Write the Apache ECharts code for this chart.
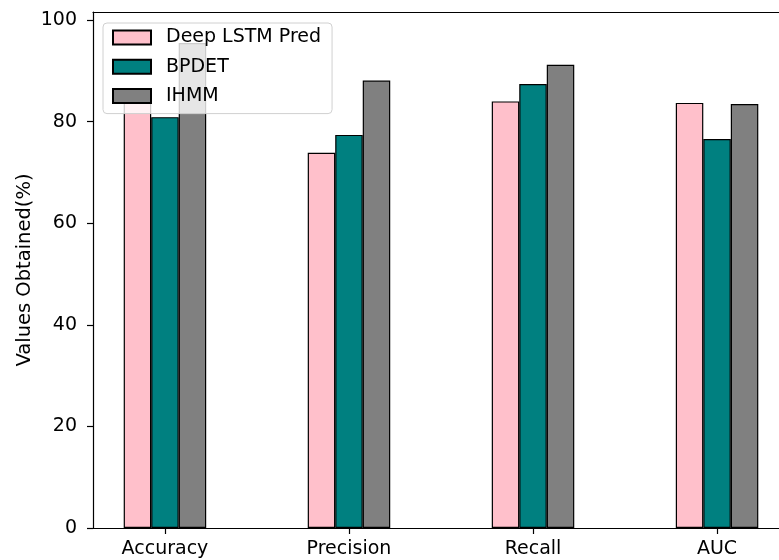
<!DOCTYPE html>
<html>
<head>
<meta charset="utf-8">
<script src="https://cdn.jsdelivr.net/npm/echarts@6/dist/echarts.min.js"></script>
<style>html,body{margin:0;padding:0;background:#fff;overflow:hidden}#c{width:800px;height:560px}</style>
</head>
<body>
<div id="c"></div>
<script>
var categories = ['Accuracy', 'Precision', 'Recall', 'AUC'];
var seriesNames = ['Deep LSTM Pred', 'BPDET', 'IHMM'];
var deepLstmPred = [85.0, 73.9, 84.0, 83.7];
var bpdet = [80.9, 77.4, 87.4, 76.6];
var ihmm = [95.5, 88.1, 91.2, 83.5];
var yTicks = [0, 20, 40, 60, 80, 100];
var colors = ['#FFC0CB', '#008080', '#808080'];

var font = 'DejaVu Sans';
var fs = 19;
var chart = echarts.init(document.getElementById('c'), null, {renderer: 'canvas'});
var catIdx = categories.map(function (c, i) { return i; });
function toPairs(arr) { return arr.map(function (v, i) { return [i, v]; }); }
var allSeries = [deepLstmPred, bpdet, ihmm].map(function (arr, k) {
  return {
    name: seriesNames[k],
    type: 'bar',
    data: toPairs(arr),
    barWidth: 27.5,
    barGap: '0%',
    itemStyle: {color: colors[k], borderColor: '#000', borderWidth: 1.2},
    emphasis: {disabled: true}
  };
});

chart.setOption({
  animation: false,
  textStyle: {fontFamily: font},
  grid: {left: 93, right: 11, top: 12, bottom: 32},
  legend: {
    orient: 'vertical',
    left: 103, top: 23,
    data: seriesNames,
    itemWidth: 38, itemHeight: 14, itemGap: 10.3,
    padding: [5, 11, 8, 9],
    backgroundColor: 'rgba(255,255,255,0.8)',
    borderColor: '#d0d0d0', borderWidth: 1, borderRadius: 4,
    textStyle: {fontFamily: font, fontSize: fs, color: '#000', lineHeight: 19, padding: [0, 0, 0, 10]},
    icon: 'rect',
    selectedMode: false,
    z: 10
  },
  xAxis: [{
    type: 'value',
    min: -0.391, max: 3.391,
    splitLine: {show: false},
    axisLine: {show: true, onZero: false, lineStyle: {color: '#000', width: 1.2}},
    axisTick: {show: true, length: 6, lineStyle: {color: '#000', width: 1.2}, customValues: catIdx},
    axisLabel: {customValues: catIdx, fontSize: fs, color: '#000', margin: 12, fontFamily: font,
      formatter: function (v) { return categories[Math.round(v)]; }}
  }, {
    type: 'value',
    position: 'top',
    min: -0.391, max: 3.391,
    splitLine: {show: false},
    axisLine: {show: true, onZero: false, lineStyle: {color: '#000', width: 1.2}},
    axisTick: {show: false},
    axisLabel: {show: false}
  }],
  yAxis: {
    type: 'value',
    min: 0, max: 101.6,
    name: 'Values Obtained(%)',
    nameLocation: 'middle',
    nameGap: 58,
    nameMoveOverlap: false,
    nameTextStyle: {fontSize: 19.5, color: '#000', fontFamily: font},
    splitLine: {show: false},
    axisLine: {show: true, onZero: false, lineStyle: {color: '#000', width: 1.2}},
    axisTick: {show: true, length: 6, lineStyle: {color: '#000', width: 1.2}, customValues: yTicks},
    axisLabel: {customValues: yTicks, fontSize: fs, color: '#000', margin: 16, fontFamily: font}
  },
  series: allSeries
});
</script>
</body>
</html>
